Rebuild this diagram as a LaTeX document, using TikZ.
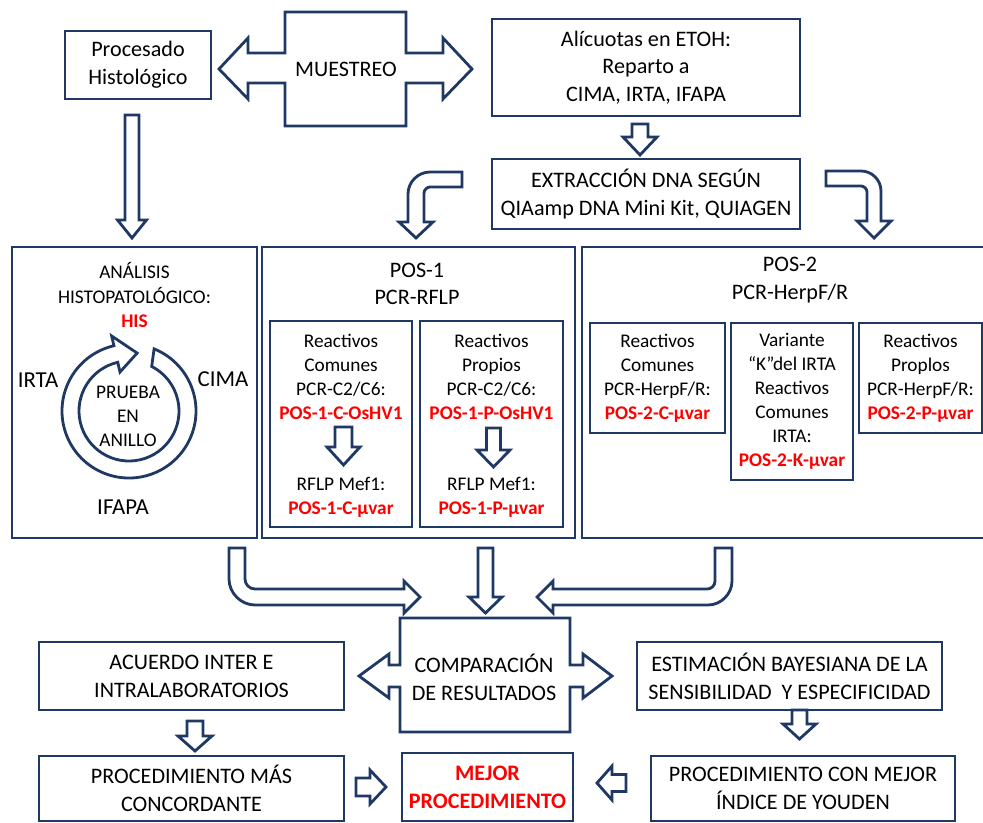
\documentclass[tikz,border=0pt]{standalone}
\usepackage{fontspec}
\setmainfont{Carlito}
\usetikzlibrary{positioning}
\definecolor{navy}{RGB}{31,56,100}
\tikzstyle{box} = [rectangle, draw=navy, line width=1.6pt, align=center, inner sep=0pt, font=\fbig]
\tikzstyle{txt} = [align=center, inner sep=0pt]
\tikzstyle{harrow} = [draw=navy, line width=1.6pt, fill=white, line join=miter]
\newcommand{\fbig}{\fontsize{12.6}{15.8}\selectfont}
\newcommand{\fmid}{\fontsize{11}{13.7}\selectfont}
\newcommand{\flab}{\fontsize{13}{15.6}\selectfont}
\newcommand{\rojo}[1]{\textcolor{red}{\bfseries #1}}
% hollow block arrows: x, y tail, y head base, y tip, half shaft, half head
\newcommand{\hdown}[6]{\draw[harrow] (#1-#5,#2) -- (#1-#5,#3) -- (#1-#6,#3) -- (#1,#4) -- (#1+#6,#3) -- (#1+#5,#3) -- (#1+#5,#2) -- cycle;}
% y, x tail, x head base, x tip, half shaft, half head
\newcommand{\hhoriz}[6]{\draw[harrow] (#2,#1-#5) -- (#3,#1-#5) -- (#3,#1-#6) -- (#4,#1) -- (#3,#1+#6) -- (#3,#1+#5) -- (#2,#1+#5) -- cycle;}

\begin{document}
\begin{tikzpicture}[x=0.02cm, y=-0.02cm]
\useasboundingbox (0,0) rectangle (983,822);

% top row
\node (proc) [box, minimum width=2.92cm, minimum height=1.36cm] at (138,65) {Procesado\\Histológico};
\draw[harrow] (285,12) -- (406,12) -- (406,53) -- (443,53) -- (443,38) -- (472,69) -- (443,99) -- (443,83) -- (406,83) -- (406,126) -- (285,126) -- (285,83) -- (248,83) -- (248,99) -- (219,69) -- (248,38) -- (248,53) -- (285,53) -- cycle;
\node (muestreo) [txt, font=\fbig] at (346,69) {MUESTREO};
\node (alic) [box, minimum width=6.16cm, minimum height=1.94cm] at (646,67.5) {Alícuotas en ETOH:\\Reparto a\\CIMA, IRTA, IFAPA};
\node (extr) [box, minimum width=6.16cm, minimum height=1.4cm] at (646,194) {EXTRACCIÓN DNA SEGÚN\\QIAamp DNA Mini Kit, QUIAGEN};

\hdown{132}{115}{220}{238}{7}{14.5}
\hdown{640}{124}{137}{155}{8}{17}
\draw[harrow] (462,172) -- (430,172) .. controls (418,172) and (408,182) .. (408,194) -- (408,222) -- (399,222) -- (416,238) -- (433,222) -- (424,222) -- (424,193) .. controls (424,190) and (427,187) .. (430,187) -- (462,187) -- cycle;
\draw[harrow] (826,171) -- (861,171) .. controls (872,171) and (881,180) .. (881,191) -- (881,221) -- (891,221) -- (874,238) -- (857,221) -- (867,221) -- (867,192) .. controls (867,189) and (864,186) .. (861,186) -- (826,186) -- cycle;

% middle row
\node (anal) [box, minimum width=4.9cm, minimum height=5.82cm] at (134.5,392.5) {};
\node (analtxt) [txt, font=\fmid] at (134.5,295) {ANÁLISIS\\HISTOPATOLÓGICO:\\\rojo{HIS}};
\begin{scope}[shift={(129,411)}, x=0.02cm, y=0.02cm]
  \draw[harrow] (68:67) arc[start angle=68, end angle=-257, radius=67] -- (103:77) -- (82:58.5) -- (103:40) -- (103:50) arc[start angle=103, end angle=423, radius=50] -- cycle;
\end{scope}
\node (ring) [txt, font=\fmid] at (128,416) {PRUEBA\\EN\\ANILLO};
\node (irta) [txt, font=\flab] at (38,380) {IRTA};
\node (cima) [txt, font=\flab] at (223,379) {CIMA};
\node (ifapa) [txt, font=\flab] at (123,507) {IFAPA};

\node (pos1) [box, minimum width=6.26cm, minimum height=5.82cm] at (418.5,392.5) {};
\node (pos1t) [txt, font=\fbig] at (417,284) {POS-1\\PCR-RFLP};
\node (p1c) [box, minimum width=2.84cm, minimum height=4.12cm] at (341,424) {};
\node (p1ct) [txt, font=\fmid] at (341,377) {Reactivos\\Comunes\\PCR-C2/C6:\\\rojo{POS-1-C-OsHV1}};
\node (p1cb) [txt, font=\fmid] at (341,497) {RFLP Mef1:\\\rojo{POS-1-C-µvar}};
\node (p1p) [box, minimum width=2.86cm, minimum height=4.12cm] at (491.5,424) {};
\node (p1pt) [txt, font=\fmid] at (491.5,377) {Reactivos\\Propios\\PCR-C2/C6:\\\rojo{POS-1-P-OsHV1}};
\node (p1pb) [txt, font=\fmid] at (491.5,497) {RFLP Mef1:\\\rojo{POS-1-P-µvar}};
\hdown{343.5}{427}{447}{465}{8.5}{16.5}
\hdown{493.5}{428}{450}{467}{7}{16.5}

\node (pos2) [box, minimum width=8.36cm, minimum height=5.82cm] at (791,392.5) {};
\node (pos2t) [txt, font=\fbig] at (790,280) {POS-2\\PCR-HerpF/R};
\node (p2c) [box, font=\fmid, minimum width=2.7cm, minimum height=2.2cm] at (657.5,378) {Reactivos\\Comunes\\PCR-HerpF/R:\\\rojo{POS-2-C-µvar}};
\node (p2k) [box, font=\fmid, minimum width=2.44cm, minimum height=3.14cm] at (792,401.5) {Variante\\“K”del IRTA\\Reactivos\\Comunes\\IRTA:\\\rojo{POS-2-K-µvar}};
\node (p2p) [box, font=\fmid, minimum width=2.46cm, minimum height=2.2cm] at (920.5,378) {Reactivos\\Proplos\\PCR-HerpF/R:\\\rojo{POS-2-P-µvar}};

% arrows into the comparison
\draw[harrow] (229,548) -- (229,579) .. controls (229,593) and (241,605) .. (255,605) -- (404,605) -- (404,613) -- (420,597) -- (404,581) -- (404,589) -- (255,589) .. controls (249.5,589) and (245,584.5) .. (245,579) -- (245,548) -- cycle;
\hdown{485.5}{548}{597}{613}{7.5}{16.5}
\draw[harrow] (732,548) -- (732,581) .. controls (732,594) and (721,605) .. (708,605) -- (553,605) -- (553,613) -- (537,597) -- (553,581) -- (553,589) -- (707,589) .. controls (711.5,589) and (715,585.5) .. (715,581) -- (715,548) -- cycle;

% bottom rows
\draw[harrow] (400,618) -- (570,618) -- (570,665) -- (583,665) -- (583,654) -- (612,676) -- (583,698) -- (583,687) -- (570,687) -- (570,732) -- (400,732) -- (400,687) -- (389,687) -- (389,698) -- (359,676) -- (389,654) -- (389,665) -- (400,665) -- cycle;
\node (comp) [txt, font=\fbig] at (484,677) {COMPARACIÓN\\DE RESULTADOS};
\node (acu) [box, minimum width=6.1cm, minimum height=1.36cm] at (191.5,676) {ACUERDO INTER E\\INTRALABORATORIOS};
\node (esti) [box, minimum width=6.1cm, minimum height=1.36cm] at (789.5,676) {ESTIMACIÓN BAYESIANA DE LA\\SENSIBILIDAD \ Y ESPECIFICIDAD};
\node (pmas) [box, minimum width=6.1cm, minimum height=1.3cm] at (191.5,788.5) {PROCEDIMIENTO MÁS\\CONCORDANTE};
\node (mejor) [box, minimum width=3.42cm, minimum height=1.36cm] at (487.5,787) {\rojo{MEJOR}\\\rojo{PROCEDIMIENTO}};
\node (pyou) [box, minimum width=6.08cm, minimum height=1.3cm] at (803,788.5) {PROCEDIMIENTO CON MEJOR\\ÍNDICE DE YOUDEN};
\hdown{195}{721}{736}{751}{8}{17}
\hdown{799.5}{710}{724}{739}{7.5}{16.5}
\hhoriz{787}{356}{370}{386}{9}{17}
\hhoriz{783}{626}{612}{597}{8.5}{17}
\end{tikzpicture}
\end{document}
